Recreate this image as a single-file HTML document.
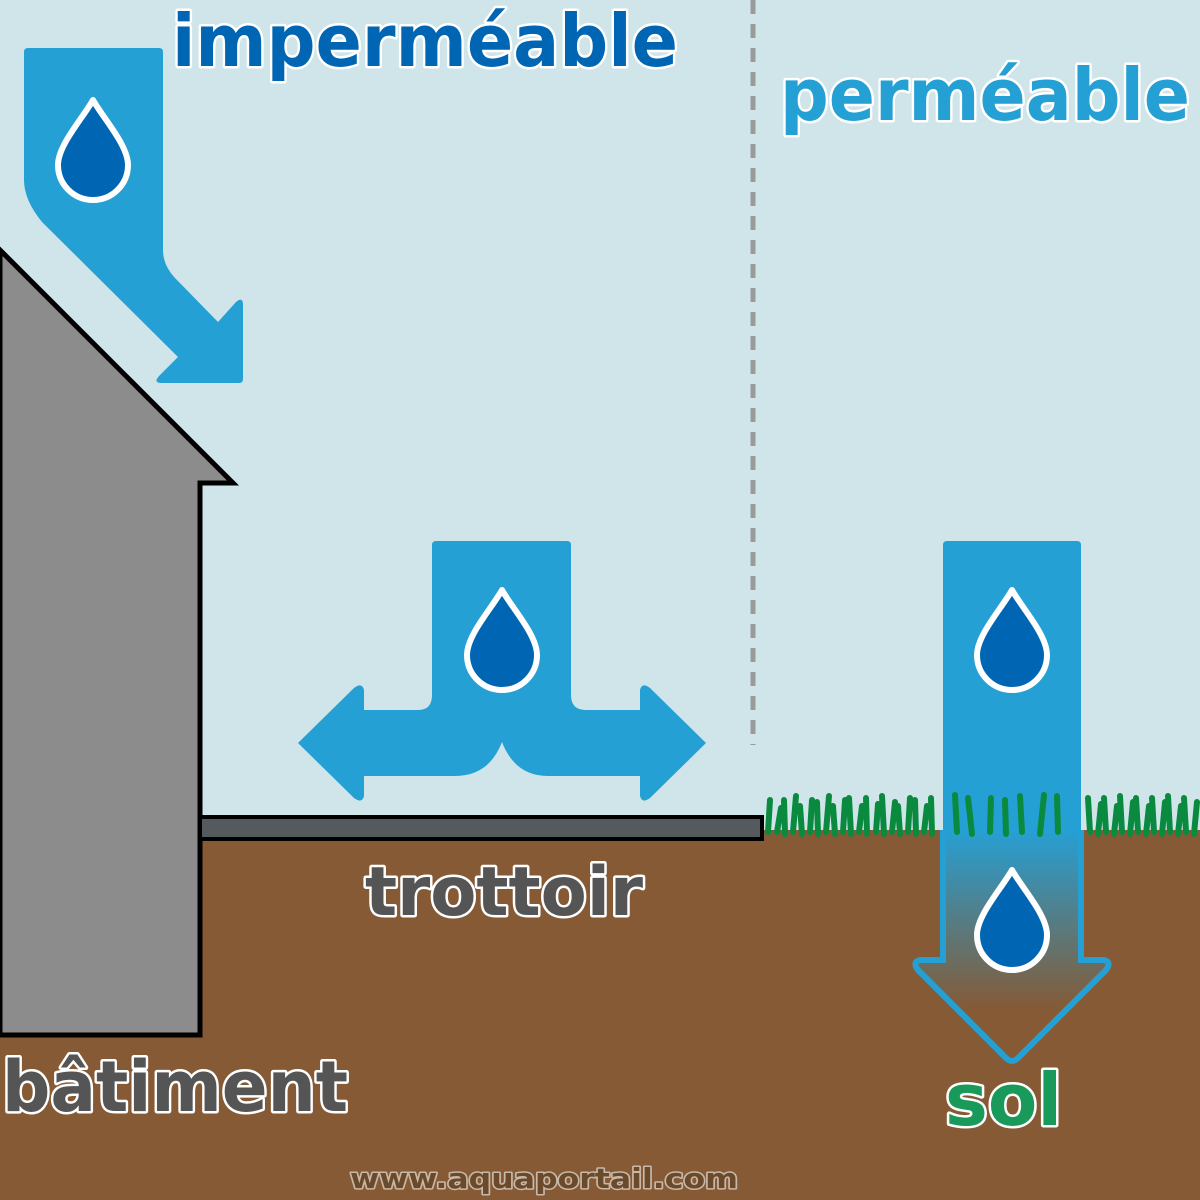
<!DOCTYPE html>
<html><head><meta charset="utf-8"><style>body{margin:0}svg{display:block}</style></head>
<body>
<svg width="1200" height="1200" viewBox="0 0 1200 1200" xmlns="http://www.w3.org/2000/svg">
<defs>
<linearGradient id="g" gradientUnits="userSpaceOnUse" x1="0" y1="830" x2="0" y2="1010">
<stop offset="0" stop-color="#25a0d4"/><stop offset="1" stop-color="#855a35"/></linearGradient>
<path id="drop" d="M0,-50 C10,-32 35,-5 35,15 A35,35 0 0 1 -35,15 C-35,-5 -10,-32 0,-50 Z" fill="#0066b3" stroke="#fff" stroke-width="6" stroke-linejoin="round"/>
</defs>
<rect width="1200" height="1200" fill="#d0e5ea"/>
<rect y="830" width="1200" height="370" fill="#855a35"/>
<line x1="753" y1="0" x2="753" y2="745" stroke="#9a9a9a" stroke-width="5" stroke-dasharray="14,10"/>
<polygon points="0,250 233,483 200,483 200,1035 0,1035" fill="#8c8c8c" stroke="#000" stroke-width="5" stroke-linejoin="miter"/>
<rect x="200" y="817" width="562" height="22" fill="#555a5e" stroke="#000" stroke-width="4"/>
<path d="M28,48 L159,48 Q163,48 163,52 L163,250 Q163,265 175,278 L218,322 L236,302 Q243,296 243,305 L243,379 Q243,383 239,383 L162,383 Q152,383 160,375 L178,357 L42,222 Q24,200 24,180 L24,52 Q24,48 28,48 Z" fill="#25a0d4"/>
<use href="#drop" x="93" y="150"/>
<path d="M436,541 L567,541 Q571,541 571,545 L571,695 Q571,710 586,710 L640,710 L640,690 Q642,682 650,688 L706,743 L650,798 Q642,804 640,796 L640,776 L548,776 Q515,776 502,742 Q489,776 455,776 L364,776 L364,796 Q362,804 354,798 L298,743 L354,688 Q362,682 364,690 L364,710 L418,710 Q432,710 432,695 L432,545 Q432,541 436,541 Z" fill="#25a0d4"/>
<use href="#drop" x="502" y="640"/>
<path d="M947,541 L1077,541 Q1081,541 1081,545 L1081,960 L1104,960 Q1112,962 1106,970 L1018,1058 Q1012,1064 1006,1058 L918,970 Q912,962 920,960 L943,960 L943,545 Q943,541 947,541 Z" fill="url(#g)"/>
<path d="M943,830 L943,960 L920,960 Q912,962 918,970 L1006,1058 Q1012,1064 1018,1058 L1106,970 Q1112,962 1104,960 L1081,960 L1081,830" fill="none" stroke="#25a0d4" stroke-width="6"/>
<use href="#drop" x="1012" y="640"/>
<use href="#drop" x="1012" y="920"/>
<g stroke="#0a8a3e" stroke-width="6" stroke-linecap="round">
<path d="M768,832 L770,800 M777,832 L781,808 M785,834 L784,800 M793,832 L796,796 M802,834 L800,806 M810,832 L812,800 M818,834 L817,802 M826,832 L829,796 M835,834 L833,806 M843,832 L845,800 M851,834 L849,798 M859,832 L862,806 M867,834 L866,798 M876,832 L878,804 M884,834 L882,796 M892,832 L895,802 M900,834 L898,806 M908,832 L910,798 M916,834 L915,800 M924,832 L927,806 M932,834 L931,798
M957,832 L955,795 M972,834 L968,798 M990,832 L991,798 M1006,834 L1005,800 M1022,832 L1020,796 M1040,834 L1044,795 M1058,832 L1057,796
M1090,832 L1088,798 M1098,834 L1101,804 M1106,832 L1104,798 M1114,834 L1117,806 M1122,832 L1120,796 M1130,834 L1133,802 M1138,832 L1136,798 M1146,834 L1149,806 M1154,832 L1152,798 M1162,834 L1165,802 M1170,832 L1168,796 M1178,834 L1181,806 M1186,832 L1184,798 M1194,834 L1197,802"/>
</g>
<g font-family="'DejaVu Sans','Liberation Sans',sans-serif" font-weight="bold" stroke="#fff" stroke-width="5" paint-order="stroke" stroke-linejoin="round">
<text x="172" y="66" font-size="72" fill="#0066b3" textLength="506" lengthAdjust="spacingAndGlyphs">imperméable</text>
<text x="780" y="120" font-size="72" fill="#25a0d4" textLength="410" lengthAdjust="spacingAndGlyphs">perméable</text>
<text x="365" y="915" font-size="68" fill="#555" textLength="278" lengthAdjust="spacingAndGlyphs">trottoir</text>
<text x="2" y="1111" font-size="70" fill="#555" textLength="346" lengthAdjust="spacingAndGlyphs">bâtiment</text>
<text x="945" y="1125" font-size="72" fill="#1a9a5a" textLength="117" lengthAdjust="spacingAndGlyphs">sol</text>
<text x="350" y="1188" font-size="28" fill="#6b4a2c" stroke="#c8b8a8" stroke-width="3" textLength="388" lengthAdjust="spacingAndGlyphs">www.aquaportail.com</text>
</g>
</svg>
</body></html>
